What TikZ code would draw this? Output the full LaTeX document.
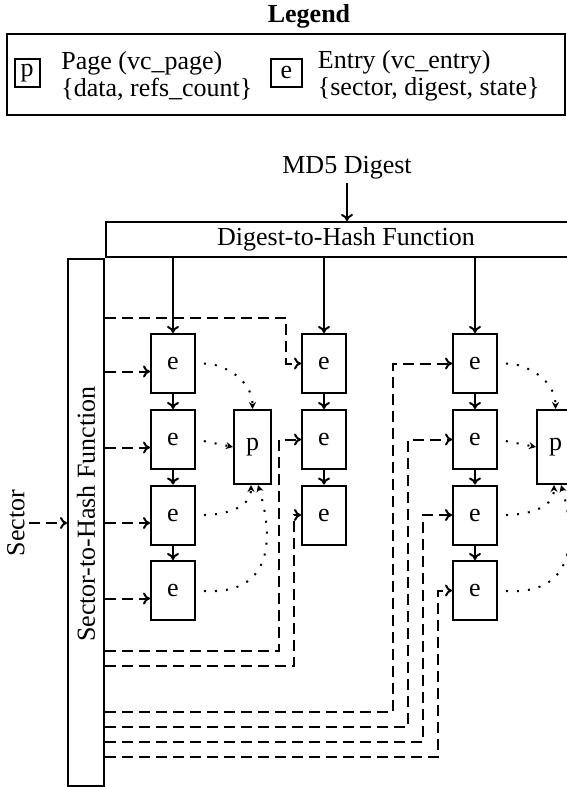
\documentclass[tikz,border=0pt]{standalone}
\usepackage{fontspec}
\setmainfont{Liberation Serif}
\usetikzlibrary{arrows.meta}
\begin{document}
\begin{tikzpicture}[x=0.5pt,y=-0.5pt,
  every node/.style={font=\fontsize{13}{13.4}\selectfont},
  bx/.style={draw, line width=1pt, inner sep=0pt},
  ebox/.style={bx, minimum width=22pt, minimum height=29.5pt},
  pbox/.style={bx, minimum width=18.5pt, minimum height=37pt},
  sol/.style={line width=1pt, -{To[length=3.5pt,width=6pt]}},
  dsh/.style={line width=1pt, dash pattern=on 5.5pt off 3pt, -{To[length=3.5pt,width=6pt]}},
  dotarr/.style={line width=1pt, dash pattern=on 1pt off 4.5pt, shorten <=4pt, -{Stealth[length=3.5pt,width=3.5pt]}},
]
\useasboundingbox (0,0) rectangle (567,787);
\clip (0,0) rectangle (567,787);

% Legend
\node[font=\fontsize{13}{13.4}\selectfont\bfseries, inner sep=0pt] (ltitle) at (309,16) {Legend};
\node[bx, minimum width=279.25pt, minimum height=40.5pt] (lbox) at (285.75,74.5) {};
\node[bx, minimum width=12.5pt, minimum height=14pt] (lp) at (27,73) {p};
\node[anchor=west, align=left, inner sep=0pt] (lpt) at (61,76) {Page (vc\_page)\\\{data, refs\_count\}};
\node[bx, minimum width=15.5pt, minimum height=14pt] (le) at (286.5,73) {e};
\node[anchor=west, align=left, inner sep=0pt] (let) at (317.5,76) {Entry (vc\_entry)\\\{sector, digest, state\}};

% Hash functions
\node[inner sep=1.5pt] (md5) at (347,168) {MD5 Digest};
\node[bx, minimum width=240pt, minimum height=17.5pt] (dth) at (346,239.5) {Digest-to-Hash Function};
\draw[sol] (md5.south) -- (md5.south |- dth.north);

\node[bx, minimum width=18pt, minimum height=263.5pt] (sth) at (86,522.5) {};
\node[rotate=90, inner sep=0pt] (stht) at (86,514) {Sector-to-Hash Function};
\node[rotate=90, anchor=south, inner sep=2pt] (sec) at (29,523) {Sector};
\draw[dsh] (sec.south) -- (sec.south -| sth.west);

% Entries
\node[ebox] (e11) at (173,363.5) {e};
\node[ebox] (e12) at (173,439.5) {e};
\node[ebox] (e13) at (173,515) {e};
\node[ebox] (e14) at (173,590.5) {e};
\node[pbox] (p1) at (252.5,447) {p};

\node[ebox] (e21) at (324,363.5) {e};
\node[ebox] (e22) at (324,439.5) {e};
\node[ebox] (e23) at (324,515) {e};

\node[ebox] (e31) at (475,363.5) {e};
\node[ebox] (e32) at (475,439.5) {e};
\node[ebox] (e33) at (475,515) {e};
\node[ebox] (e34) at (475,590.5) {e};
\node[pbox] (p3) at (555.5,447) {p};

% Digest arrows
\draw[sol] (e11.north |- dth.south) -- (e11.north);
\draw[sol] (e21.north |- dth.south) -- (e21.north);
\draw[sol] (e31.north |- dth.south) -- (e31.north);

% chains
\draw[sol] (e11) -- (e12);
\draw[sol] (e12) -- (e13);
\draw[sol] (e13) -- (e14);
\draw[sol] (e21) -- (e22);
\draw[sol] (e22) -- (e23);
\draw[sol] (e31) -- (e32);
\draw[sol] (e32) -- (e33);
\draw[sol] (e33) -- (e34);

% dotted to pages
\draw[dotarr] (e11.east) to[out=0,in=90] (p1.north);
\draw[dotarr] (e12.east) -- (p1.west);
\draw[dotarr] (e13.east) to[out=0,in=-90] ([xshift=-0.75pt]p1.south);
\draw[dotarr] (e14.east) .. controls +(85,5) and +(12,40) .. ([xshift=2.75pt]p1.south);

\draw[dotarr] (e31.east) to[out=0,in=90] (p3.north);
\draw[dotarr] (e32.east) -- (p3.west);
\draw[dotarr] (e33.east) to[out=0,in=-90] ([xshift=-0.75pt]p3.south);
\draw[dotarr] (e34.east) .. controls +(85,5) and +(12,40) .. ([xshift=2.75pt]p3.south);

% sector arrows column 1
\foreach \r in {1,2,3,4} {
  \coordinate (a\r) at ([yshift=-4pt]e1\r.west);
  \draw[dsh] (sth.east |- a\r) -- (a\r);
}

% column 2
\coordinate (c21) at (286,318);
\coordinate (c22) at (279,651);
\coordinate (c23) at (294,666);
\draw[dsh] (sth.east |- c21) -- (c21) |- (e21.west);
\draw[dsh] (sth.east |- c22) -- (c22) |- (e22.west);
\draw[dsh] (sth.east |- c23) -- (c23) |- (e23.west);

% column 3
\coordinate (c31) at (392.5,712);
\coordinate (c32) at (407.5,727);
\coordinate (c33) at (422.5,742);
\coordinate (c34) at (437.5,757);
\draw[dsh] (sth.east |- c31) -- (c31) |- (e31.west);
\draw[dsh] (sth.east |- c32) -- (c32) |- (e32.west);
\draw[dsh] (sth.east |- c33) -- (c33) |- (e33.west);
\draw[dsh] (sth.east |- c34) -- (c34) |- (e34.west);
\end{tikzpicture}
\end{document}
